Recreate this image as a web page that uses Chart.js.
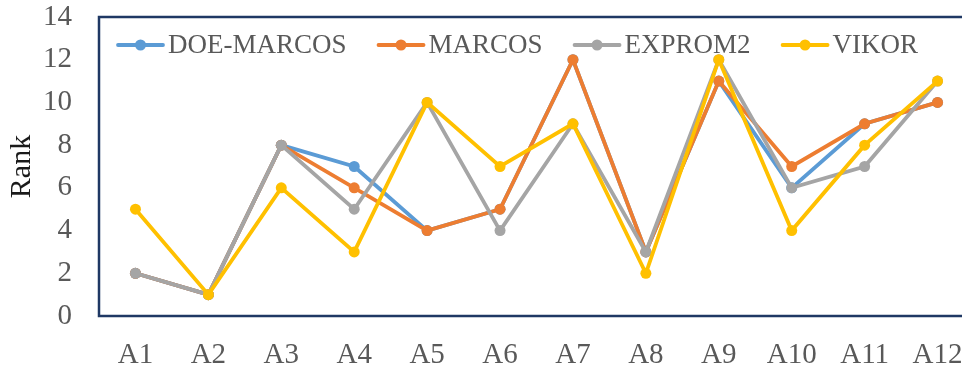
<!DOCTYPE html>
<html>
<head>
<meta charset="utf-8">
<script src="https://cdn.jsdelivr.net/npm/chart.js@4.4.1/dist/chart.umd.min.js"></script>
<style>
  html, body { margin: 0; padding: 0; background: #fff; overflow: hidden; }
  #wrap { width: 990px; height: 369px; position: relative; }
</style>
</head>
<body>
<div id="wrap"><canvas id="c"></canvas></div>
<script>
const categories = ['A1','A2','A3','A4','A5','A6','A7','A8','A9','A10','A11','A12'];
const doeMarcos = [2, 1, 8, 7, 4, 5, 12, 3, 11, 6, 9, 10];
const marcos    = [2, 1, 8, 6, 4, 5, 12, 3, 11, 7, 9, 10];
const exprom2   = [2, 1, 8, 5, 10, 4, 9, 3, 12, 6, 7, 11];
const vikor     = [5, 1, 6, 3, 10, 7, 9, 2, 12, 4, 8, 11];
const seriesNames = ['DOE-MARCOS', 'MARCOS', 'EXPROM2', 'VIKOR'];
const yTicks = [0, 2, 4, 6, 8, 10, 12, 14];
const yTitle = 'Rank';

const colors = ['#5B9BD5', '#ED7D31', '#A5A5A5', '#FFC000'];
const seriesData = [doeMarcos, marcos, exprom2, vikor];
const NAVY = '#1F3864';
const FONT = '"Liberation Serif", "Times New Roman", serif';

const datasets = seriesData.map((d, i) => ({
  label: seriesNames[i],
  data: d,
  borderColor: colors[i],
  backgroundColor: colors[i],
  pointBackgroundColor: colors[i],
  pointBorderColor: colors[i],
  borderWidth: 3.8,
  pointRadius: 5.5,
  pointBorderWidth: 0,
  tension: 0,
  order: seriesData.length - i
}));

const frameAndLegend = {
  id: 'frameAndLegend',
  afterDatasetsDraw(chart) {
    const { ctx, chartArea: a } = chart;
    ctx.save();
    // plot frame
    ctx.strokeStyle = NAVY;
    ctx.lineWidth = 2.5;
    ctx.strokeRect(a.left, a.top, a.right - a.left, a.bottom - a.top);
    // legend inside plot area
    ctx.font = '27px ' + FONT;
    ctx.textBaseline = 'middle';
    ctx.textAlign = 'left';
    let x = a.left + 19;
    const y = a.top + 28;
    seriesNames.forEach((name, i) => {
      ctx.strokeStyle = colors[i];
      ctx.lineWidth = 3.8;
      ctx.lineCap = 'round';
      ctx.beginPath();
      ctx.moveTo(x, y);
      ctx.lineTo(x + 45, y);
      ctx.stroke();
      ctx.fillStyle = colors[i];
      ctx.beginPath();
      ctx.arc(x + 22.5, y, 5.5, 0, Math.PI * 2);
      ctx.fill();
      ctx.fillStyle = '#595959';
      ctx.fillText(name, x + 50, y + 1);
      x += 50 + ctx.measureText(name).width + 32;
    });
    ctx.restore();
  }
};

new Chart(document.getElementById('c'), {
  type: 'line',
  data: { labels: categories, datasets },
  options: {
    responsive: true,
    maintainAspectRatio: false,
    animation: false,
    layout: { padding: { top: 17, right: 16, left: 0, bottom: 0 } },
    plugins: { legend: { display: false }, tooltip: { enabled: false } },
    scales: {
      x: {
        type: 'category',
        offset: true,
        grid: { display: false, drawTicks: false },
        border: { display: false },
        ticks: {
          color: '#595959',
          font: { family: FONT, size: 29 },
          padding: 22,
          maxRotation: 0,
          autoSkip: false
        },
        afterFit(scale) { scale.height = 53; scale.paddingLeft = 0; scale.paddingRight = 0; }
      },
      y: {
        min: 0,
        max: 14,
        afterBuildTicks(scale) { scale.ticks = yTicks.map(v => ({ value: v })); },
        grid: { display: false, drawTicks: false },
        border: { display: false },
        ticks: {
          color: '#595959',
          font: { family: FONT, size: 29 },
          padding: 27
        },
        title: {
          display: true,
          text: yTitle,
          color: '#1a1a1a',
          font: { family: FONT, size: 30 },
          padding: { top: 4, bottom: 0 }
        },
        afterFit(scale) { scale.width = 99; scale.paddingTop = 0; scale.paddingBottom = 0; }
      }
    }
  },
  plugins: [frameAndLegend]
});
</script>
</body>
</html>
